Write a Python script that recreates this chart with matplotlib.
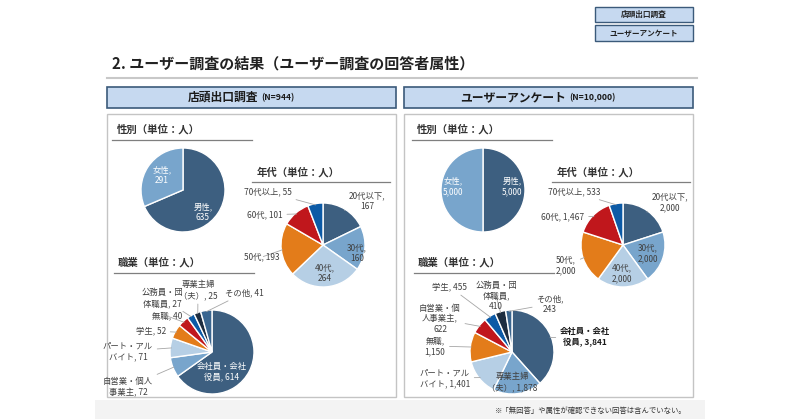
import numpy as np
import matplotlib
matplotlib.use("Agg")
import matplotlib.pyplot as plt
from matplotlib.patches import Rectangle

plt.rcParams['font.family'] = ['Noto Sans CJK JP', 'DejaVu Sans']

W, H = 800, 419

# --- data ---
gender_names = ['男性', '女性']
shop_gender = [635, 291]
user_gender = [5000, 5000]

age_names = ['20代以下', '30代', '40代', '50代', '60代', '70代以上']
shop_age = [167, 160, 264, 193, 101, 55]
user_age = [2000, 2000, 2000, 2000, 1467, 533]

shop_job_names = ['会社員・会社役員', '自営業・個人事業主', 'パート・アルバイト', '学生',
                  '無職', '公務員・団体職員', '専業主婦（夫）', 'その他']
shop_job = [614, 72, 71, 52, 40, 27, 25, 41]

user_job_names = ['会社員・会社役員', '専業主婦（夫）', 'パート・アルバイト', '無職',
                  '自営業・個人事業主', '学生', '公務員・団体職員', 'その他']
user_job = [3841, 1878, 1401, 1150, 622, 455, 410, 243]

# --- colours ---
c_dark = '#3d5f80'
c_mid = '#78a5cc'
c_light = '#b6cfe5'
c_orange = '#e37c1a'
c_red = '#c0171c'
c_blue = '#0c5aa6'
c_navy = '#1d2d40'
c_other = '#3a6690'
txt = '#404040'

fig = plt.figure(figsize=(W / 100, H / 100), dpi=100)
# background layer (boxes), pies go above it, texts on a top layer
ax0 = fig.add_axes([0, 0, 1, 1], zorder=0)
ax0.set_xlim(0, W)
ax0.set_ylim(H, 0)
ax0.axis('off')
axt = fig.add_axes([0, 0, 1, 1], zorder=5)
axt.set_xlim(0, W)
axt.set_ylim(H, 0)
axt.axis('off')
axt.patch.set_alpha(0)


def box(x0, y0, x1, y1, fc, ec, lw):
    ax0.add_patch(Rectangle((x0, y0), x1 - x0, y1 - y0, facecolor=fc, edgecolor=ec, lw=lw))


# top right tag boxes
box(595, 7, 693, 22, '#c6d9f0', '#3b5a7a', 1.0)
box(595, 25, 693, 41, '#c6d9f0', '#3b5a7a', 1.0)
axt.text(644, 14.5, '店頭出口調査', ha='center', va='center', fontsize=5.5, fontweight='bold', color='#222222')
axt.text(644, 33, 'ユーザーアンケート', ha='center', va='center', fontsize=5.5, fontweight='bold', color='#222222')

# title
axt.text(112, 63, '2. ユーザー調査の結果（ユーザー調査の回答者属性）', ha='left', va='center',
         fontsize=10.8, fontweight='bold', color='#222222')
ax0.plot([107, 697], [78, 78], color='#c8c8c8', lw=1.5)

# bottom band and footnote
box(95, 400, 705, 419, '#f3f3f3', 'none', 0)
axt.text(591, 411, '※「無回答」や属性が確認できない回答は含んでいない。', ha='center', va='center',
         fontsize=5.3, color='#333333')

# headers and panels
for x0, x1, main, n, split in [(107, 396, '店頭出口調査', '(N=944)', 258),
                               (404, 693, 'ユーザーアンケート', '(N=10,000)', 566)]:
    box(x0, 87, x1, 108, '#c6d9f0', '#3b5a7a', 1.2)
    axt.text(split, 97.5, main, ha='right', va='center', fontsize=8.5, fontweight='bold', color='#1a1a1a')
    axt.text(split + 3, 98, n, ha='left', va='center', fontsize=6.2, fontweight='bold', color='#1a1a1a')
    box(x0, 114, x1, 397, 'white', '#c4c4c4', 1.0)


def subtitle(x, y, s, lx0, lx1, ly):
    axt.text(x, y, s, ha='left', va='center', fontsize=7.5, fontweight='bold', color='#333333')
    ax0.plot([lx0, lx1], [ly, ly], color='#7f7f7f', lw=0.9)


for off in [0, 300]:
    subtitle(117 + off, 129, '性別（単位：人）', 112 + off, 252 + off, 140)
    subtitle(257 + off, 172, '年代（単位：人）', 252 + off, 390 + off, 182)
    subtitle(118 + off, 262, '職業（単位：人）', 114 + off, 254 + off, 273)


def draw_pie(cx, cy, r, values, colors, labels):
    # labels: list of (text, x, y, inside, color, bold)
    ax = fig.add_axes([(cx - r) / W, 1 - (cy + r) / H, 2 * r / W, 2 * r / H], zorder=2)
    wedges, _ = ax.pie(values, colors=colors, startangle=90, counterclock=False, radius=1,
                       wedgeprops=dict(edgecolor='white', linewidth=1.0))
    ax.set_xlim(-1, 1)
    ax.set_ylim(-1, 1)
    ax.axis('off')
    for w, (s, lx, ly, inside, col, bold) in zip(wedges, labels):
        fw = 'bold' if bold else 'normal'
        if inside:
            axt.text(lx, ly, s, ha='center', va='center', fontsize=6, color=col,
                     fontweight=fw, linespacing=1.25)
        else:
            a = np.deg2rad((w.theta1 + w.theta2) / 2)
            ex, ey = cx + 0.97 * r * np.cos(a), cy - 0.97 * r * np.sin(a)
            axt.annotate(s, xy=(ex, ey), xytext=(lx, ly), ha='center', va='center', fontsize=6,
                         color=col, fontweight=fw, linespacing=1.25,
                         arrowprops=dict(arrowstyle='-', color='#a6a6a6', lw=0.6, shrinkA=1, shrinkB=0))


def lab(name, v, brk):
    return brk.format(n=name, v=f'{v:,}')


# ---- left panel ----
draw_pie(183, 190, 42, shop_gender, [c_dark, c_mid], [
    (lab(gender_names[0], shop_gender[0], '{n},\n{v}'), 203, 212, True, 'white', False),
    (lab(gender_names[1], shop_gender[1], '{n},\n{v}'), 162, 175, True, 'white', False)])

age_cols = [c_dark, c_mid, c_light, c_orange, c_red, c_blue]
age_fmt_shop = ['{n},\n{v}', '{n},\n{v}', '{n},\n{v}', '{n}, {v}', '{n}, {v}', '{n}, {v}']
age_pos_shop = [(367, 201, False), (357, 253, True), (325, 273, True),
                (262, 257, False), (265, 215, False), (268, 192, False)]
draw_pie(323, 245, 42, shop_age, age_cols,
         [(lab(age_names[i], shop_age[i], age_fmt_shop[i]), x, y, ins, txt, False)
          for i, (x, y, ins) in enumerate(age_pos_shop)])

job_cols = [c_dark, c_mid, c_light, c_orange, c_red, c_blue, c_navy, c_other]
shop_job_fmt = ['会社員・会社\n役員, {v}', '自営業・個人\n事業主, {v}', 'パート・アル\nバイト, {v}',
                '{n}, {v}', '{n}, {v}', '公務員・団\n体職員, {v}', '専業主婦\n（夫）, {v}', '{n}, {v}']
shop_job_pos = [(222, 372, True), (128, 387, False), (128, 351, False), (151, 331, False),
                (167, 316, False), (162, 298, False), (198, 290, False), (244, 293, False)]
draw_pie(212, 352, 42, shop_job, job_cols,
         [(lab(shop_job_names[i], shop_job[i], shop_job_fmt[i]), x, y, ins,
           'white' if ins else txt, False)
          for i, (x, y, ins) in enumerate(shop_job_pos)])

# ---- right panel ----
draw_pie(483, 190, 42, user_gender, [c_dark, c_mid], [
    (lab(gender_names[0], user_gender[0], '{n},\n{v}'), 512, 186, True, 'white', False),
    (lab(gender_names[1], user_gender[1], '{n},\n{v}'), 453, 186, True, 'white', False)])

age_fmt_user = ['{n},\n{v}', '{n},\n{v}', '{n},\n{v}', '{n},\n{v}', '{n}, {v}', '{n}, {v}']
age_pos_user = [(670, 202, False), (648, 253, True), (622, 273, True),
                (566, 265, False), (563, 217, False), (574, 192, False)]
draw_pie(623, 245, 42, user_age, age_cols,
         [(lab(age_names[i], user_age[i], age_fmt_user[i]), x, y, ins, txt, False)
          for i, (x, y, ins) in enumerate(age_pos_user)])

user_job_fmt = ['会社員・会社\n役員, {v}', '専業主婦\n（夫）, {v}', 'パート・アル\nバイト, {v}',
                '{n},\n{v}', '自営業・個\n人事業主,\n{v}', '{n}, {v}', '公務員・団\n体職員,\n{v}',
                '{n},\n{v}']
user_job_pos = [(585, 337, False), (512, 382, True), (445, 378, False), (435, 346, False),
                (440, 319, False), (450, 287, False), (496, 296, False), (550, 304, False)]
draw_pie(512, 352, 42, user_job, job_cols,
         [(lab(user_job_names[i], user_job[i], user_job_fmt[i]), x, y, ins,
           '#1a1a1a' if i == 0 else txt, i == 0)
          for i, (x, y, ins) in enumerate(user_job_pos)])

fig.savefig('out.png', dpi=100)
